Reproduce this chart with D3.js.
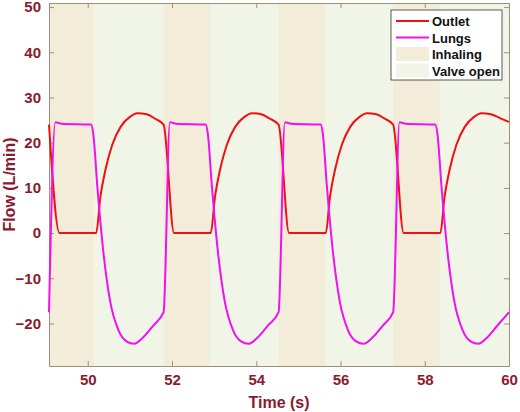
<!DOCTYPE html>
<html><head><meta charset="utf-8">
<script src="https://cdn.jsdelivr.net/npm/d3@7"></script>
<style>body{margin:0;background:#fff}text{font-family:"Liberation Sans",Arial,sans-serif;font-weight:bold}</style>
</head><body><svg id="c" width="520" height="412"></svg>
<script>
const inhaleStart = [49.08, 51.8, 54.53, 57.25]
const inhaleEnd = [50.15, 52.9, 55.63, 58.35]

const outletT = [49.08,49.33,50.2,50.3,50.42,50.58,50.78,51.0,51.18,51.4,51.6,
  51.8,52.05,52.92,53.02,53.14,53.3,53.5,53.72,53.9,54.12,54.32,
  54.53,54.78,55.65,55.75,55.87,56.03,56.23,56.45,56.63,56.85,57.05,
  57.25,57.5,58.37,58.47,58.59,58.75,58.95,59.17,59.35,59.57,59.77,60.0]
const outletV = [24,0,0,8,14,19.5,23.5,25.7,26.5,26.3,25.3,
  24,0,0,8,14,19.5,23.5,25.7,26.5,26.3,25.3,
  24,0,0,8,14,19.5,23.5,25.7,26.5,26.3,25.3,
  24,0,0,8,14,19.5,23.5,25.7,26.5,26.3,25.5,24.6]

const lungsT = [49.08,49.23,49.38,50.08,50.13,50.23,50.38,50.53,50.73,50.93,51.1,51.3,51.55,
  51.8,51.95,52.1,52.8,52.85,52.95,53.1,53.25,53.45,53.65,53.82,54.02,54.27,
  54.53,54.68,54.83,55.53,55.58,55.68,55.83,55.98,56.18,56.38,56.55,56.75,57.0,
  57.25,57.4,57.55,58.25,58.3,58.4,58.55,58.7,58.9,59.1,59.27,59.47,59.72,60.0]
const lungsV = [-17.5,24.5,24.2,24,22,10,-5,-15,-21.5,-24,-24.5,-23.2,-20.5,
  -17.5,24.5,24.2,24,22,10,-5,-15,-21.5,-24,-24.5,-23.2,-20.5,
  -17.5,24.5,24.2,24,22,10,-5,-15,-21.5,-24,-24.5,-23.2,-20.5,
  -17.5,24.5,24.2,24,22,10,-5,-15,-21.5,-24,-24.5,-23.2,-20.5,-17.5]

const xTicks = [50,52,54,56,58,60]
const yTicks = [-20,-10,0,10,20,30,40,50]

const m = {l:49, r:509, t:3, b:366}
const red = "#8b1a2e"
const svg = d3.select("#c")
const x = d3.scaleLinear().domain([49.08,60]).range([m.l,m.r])
const y = d3.scaleLinear().domain([-29.4,50.9]).range([m.b,m.t])

svg.append("rect").attr("x",m.l).attr("y",m.t).attr("width",m.r-m.l).attr("height",m.b-m.t).attr("fill","#f1f5e8")
svg.selectAll(".band").data(inhaleStart).join("rect")
  .attr("x", d => x(d))
  .attr("width", (d,i) => x(inhaleEnd[i]) - x(d))
  .attr("y", m.t).attr("height", m.b-m.t)
  .attr("fill","#f2ecd8")

svg.append("g").attr("transform","translate(0,"+m.b+")")
  .call(d3.axisBottom(x).tickValues(xTicks).tickSize(-5).tickPadding(8))
svg.append("g").attr("transform","translate("+m.l+",0)")
  .call(d3.axisLeft(y).tickValues(yTicks).tickSize(-5).tickPadding(8))
svg.append("g").attr("transform","translate(0,"+m.t+")")
  .call(d3.axisTop(x).tickValues(xTicks).tickSize(-5).tickFormat(""))
svg.append("g").attr("transform","translate("+m.r+",0)")
  .call(d3.axisRight(y).tickValues(yTicks).tickSize(-5).tickFormat(""))
svg.selectAll(".domain, .tick line").attr("stroke","#a08f78")
svg.selectAll(".tick text").attr("fill",red).attr("font-size",15).attr("font-weight","bold")

const line = d3.line().curve(d3.curveMonotoneX)
svg.append("path").attr("d", line(outletT.map((t,i)=>[x(t),y(outletV[i])])))
  .attr("fill","none").attr("stroke","#f01010").attr("stroke-width",2)
svg.append("path").attr("d", line(lungsT.map((t,i)=>[x(t),y(lungsV[i])])))
  .attr("fill","none").attr("stroke","#f010f0").attr("stroke-width",2)

svg.append("text").attr("x",(m.l+m.r)/2).attr("y",408).attr("text-anchor","middle")
  .attr("fill",red).attr("font-size",16).text("Time (s)")
svg.append("text").attr("transform","translate(15,"+((m.t+m.b)/2)+") rotate(-90)")
  .attr("text-anchor","middle").attr("fill",red).attr("font-size",16).text("Flow (L/min)")

const leg = svg.append("g").attr("transform","translate(391,10)")
leg.append("rect").attr("width",111).attr("height",70).attr("fill","#fff").attr("stroke","#333").attr("stroke-width",0.8)
const items = [["Outlet","line","#f01010"],["Lungs","line","#f010f0"],["Inhaling","box","#f2ecd8"],["Valve open","box","#f1f5e8"]]
items.forEach((d,i)=>{
  const yy = 11 + i*16.5
  if (d[1]==="line") leg.append("line").attr("x1",5).attr("x2",38).attr("y1",yy).attr("y2",yy).attr("stroke",d[2]).attr("stroke-width",2)
  else leg.append("rect").attr("x",5).attr("y",yy-7).attr("width",33).attr("height",14).attr("fill",d[2])
  leg.append("text").attr("x",41).attr("y",yy+5).attr("font-size",13).attr("fill","#111").text(d[0])
})
</script></body></html>
